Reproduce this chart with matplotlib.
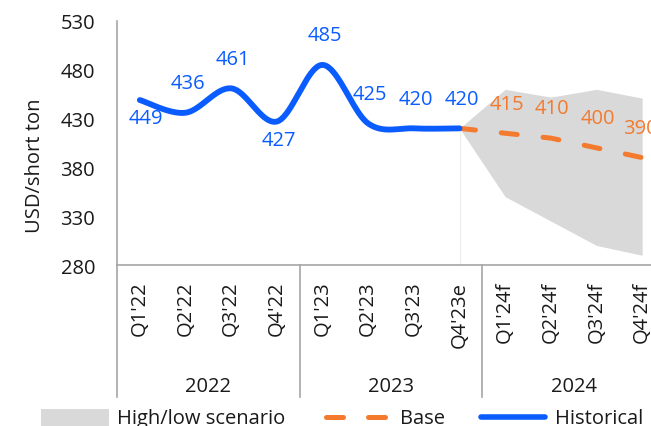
import numpy as np
import matplotlib
matplotlib.use("Agg")
import matplotlib.pyplot as plt
from matplotlib.patches import Rectangle

plt.rcParams["font.family"] = ["Open Sans", "DejaVu Sans"]

# ---- data -------------------------------------------------------------
quarters = ["Q1'22", "Q2'22", "Q3'22", "Q4'22",
            "Q1'23", "Q2'23", "Q3'23", "Q4'23e",
            "Q1'24f", "Q2'24f", "Q3'24f", "Q4'24f"]
years = ["2022", "2023", "2024"]
historical = [449, 436, 461, 427, 485, 425, 420, 420]
base = [420, 415, 410, 400, 390]
scenario_high = [420, 460, 452, 460, 451]
scenario_low = [420, 350, 325, 300, 290]
yticks = [280, 330, 380, 430, 480, 530]

BLUE = "#0a5cff"
ORANGE = "#f47a2e"
GREY_FILL = "#d9d9d9"
SPINE = "#a6a6a6"
FS = 14.5

W, H = 651, 427
fig = plt.figure(figsize=(W / 100, H / 100), dpi=100)

# axes in pixel terms: left 117, right 665 (runs past the canvas), top 22, bottom 266
left, right, top, bottom = 117, 665, 22, 266
ax = fig.add_axes([left / W, 1 - bottom / H, (right - left) / W, (bottom - top) / H])


def smooth(xs, ys, n=40):
    """Cardinal (Catmull-Rom) Bezier smoothing through every point."""
    pts = np.column_stack([xs, ys]).astype(float)
    out = []
    m = len(pts)
    for i in range(m - 1):
        p0 = pts[max(i - 1, 0)]
        p1 = pts[i]
        p2 = pts[i + 1]
        p3 = pts[min(i + 2, m - 1)]
        c1 = p1 + (p2 - p0) / 6.0
        c2 = p2 - (p3 - p1) / 6.0
        t = np.linspace(0, 1, n)[:, None]
        seg = ((1 - t) ** 3) * p1 + 3 * ((1 - t) ** 2) * t * c1 \
            + 3 * (1 - t) * t ** 2 * c2 + t ** 3 * p2
        out.append(seg if i == 0 else seg[1:])
    return np.vstack(out)


x_hist = np.arange(len(historical))
x_fc = np.arange(len(historical) - 1, len(historical) - 1 + len(base))

# scenario band
ax.fill_between(x_fc, scenario_low, scenario_high, color=GREY_FILL, lw=0, zorder=1)
ax.plot([x_fc[0], x_fc[0]], [yticks[0], base[0]], color="#ececec", lw=0.8, zorder=1.5)

# base forecast
ax.plot(x_fc, base, color=ORANGE, lw=3.6, dashes=(3.2, 5.2),
        dash_capstyle="round", solid_capstyle="round", zorder=2)

# historical smoothed line
curve = smooth(x_hist, historical)
ax.plot(curve[:, 0], curve[:, 1], color=BLUE, lw=4.2,
        solid_capstyle="round", zorder=3)

# value labels
below = {0, 3}
for i, v in enumerate(historical):
    dy = -23.3 if i in below else 24.7
    dx = 6 if i == 0 else 2
    ax.annotate(str(v), (x_hist[i], v), xytext=(dx, dy), textcoords="offset pixels",
                ha="center", va="baseline", color=BLUE, fontsize=FS, zorder=5,
                annotation_clip=False)
fc_dx = [2, 1, 1, -2]
for xv, v, dx in zip(x_fc[1:], base[1:], fc_dx):
    ax.annotate(str(v), (xv, v), xytext=(dx, 24.7), textcoords="offset pixels",
                ha="center", va="baseline", color=ORANGE, fontsize=FS, zorder=5,
                annotation_clip=False)

# axes styling
ax.set_xlim(-0.5, len(quarters) - 0.5)
ax.set_ylim(yticks[0], yticks[-1])
ax.set_yticks(yticks)
ax.set_yticklabels([str(t) for t in yticks], fontsize=FS, color="#1a1a1a")
ax.set_xticks(np.arange(len(quarters)))
ax.set_xticklabels(quarters, rotation=90, fontsize=FS, color="#1a1a1a")
ax.tick_params(axis="x", length=0, pad=11.3)
ax.tick_params(axis="y", length=0, pad=15.8)
for s in ("top", "right"):
    ax.spines[s].set_visible(False)
for s in ("left", "bottom"):
    ax.spines[s].set_color(SPINE)
    ax.spines[s].set_linewidth(1.2)

# year groups under the quarter labels
tr = ax.get_xaxis_transform()
sep_bottom = (bottom - 398) / (bottom - top)
year_base = (bottom - 391.5) / (bottom - top)
for k, yr in enumerate(years):
    x0 = k * 4 - 0.5
    ax.plot([x0, x0], [0, sep_bottom], transform=tr, color=SPINE, lw=1.2,
            clip_on=False, zorder=0)
    ax.text(x0 + 2, year_base, yr, transform=tr, ha="center", va="baseline",
            fontsize=FS, color="#1a1a1a")
ax.plot([len(quarters) - 0.5] * 2, [0, sep_bottom], transform=tr, color=SPINE,
        lw=1.2, clip_on=False, zorder=0)

# y-axis title
fig.text(35 / W, 1 - 166 / H, "USD/short ton", rotation=90, ha="center",
         va="center", fontsize=FS, color="#1a1a1a")

# legend row (pixel-based overlay)
lg = fig.add_axes([0, 0, 1, 1], zorder=10)
lg.set_xlim(0, W)
lg.set_ylim(H, 0)
lg.axis("off")
lg.patch.set_alpha(0)
ly = 418
lg.add_patch(Rectangle((41, 410), 68, 17, color=GREY_FILL, lw=0))
lg.text(117, 424.5, "High/low scenario", fontsize=FS, va="baseline", ha="left",
        color="#1a1a1a")
for a, b in ((325.5, 342.5), (367.5, 384.5)):
    lg.plot([a, b], [ly, ly], color=ORANGE, lw=3.6, solid_capstyle="round")
lg.text(400, 424.5, "Base", fontsize=FS, va="baseline", ha="left", color="#1a1a1a")
lg.plot([481, 545], [ly, ly], color=BLUE, lw=4.0, solid_capstyle="round")
lg.text(555, 424.5, "Historical", fontsize=FS, va="baseline", ha="left",
        color="#1a1a1a")

fig.savefig("out.png", dpi=100)
